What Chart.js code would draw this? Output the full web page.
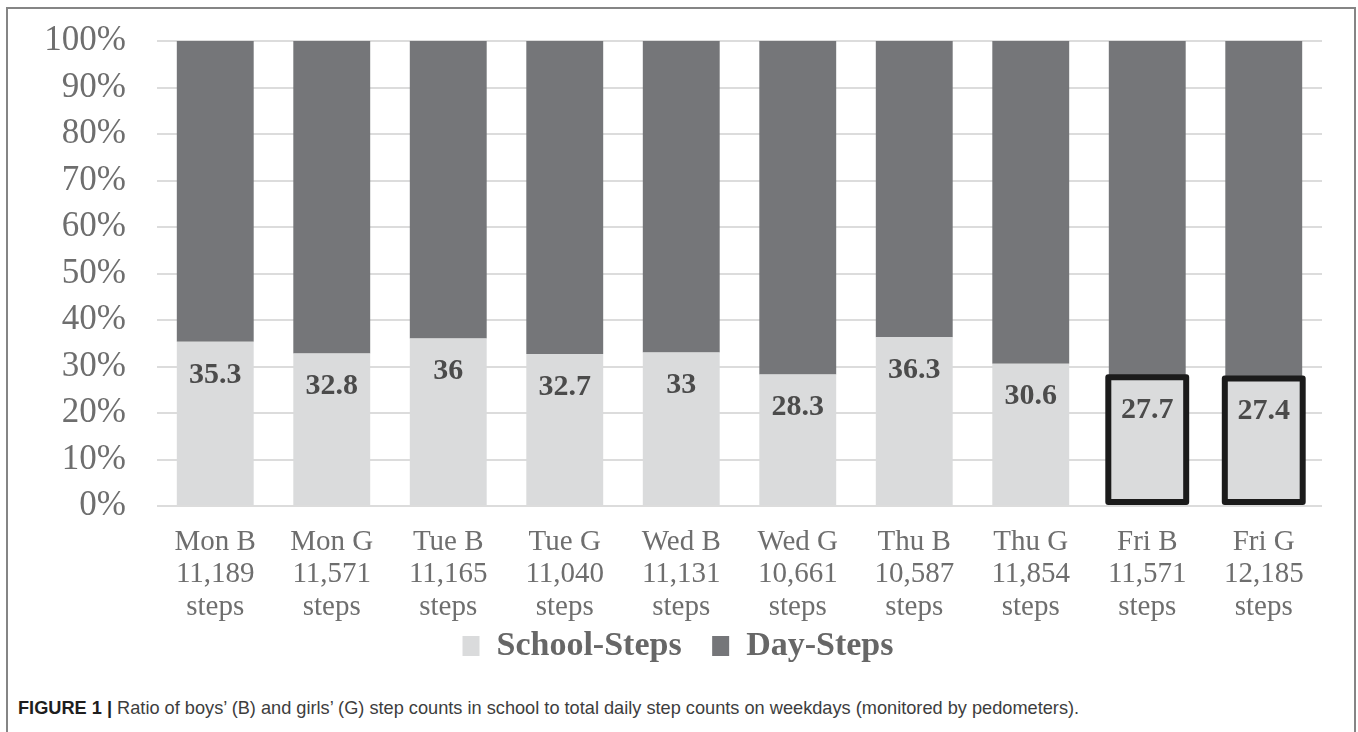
<!DOCTYPE html>
<html>
<head>
<meta charset="utf-8">
<script src="https://cdn.jsdelivr.net/npm/chart.js@4.4.1/dist/chart.umd.min.js"></script>
<style>
  html, body { margin: 0; padding: 0; background: #fff; }
  body { width: 1358px; height: 732px; position: relative; overflow: hidden; }
  #frame {
    position: absolute; left: 6px; top: 7px; width: 1350px; height: 760px;
    border: 2px solid #858585; box-sizing: border-box;
  }
  #chart { position: absolute; left: 0; top: 0; }
  #caption {
    position: absolute; left: 18px; top: 698px;
    font-family: "Liberation Sans", Arial, sans-serif; font-size: 18.2px; line-height: 20px;
    color: #3d3d3d; white-space: nowrap;
  }
  #caption b { color: #1e1e1e; }
</style>
</head>
<body>
<div id="frame"></div>
<canvas id="chart" width="1358" height="680"></canvas>
<div id="caption"><b>FIGURE 1 |</b> Ratio of boys’ (B) and girls’ (G) step counts in school to total daily step counts on weekdays (monitored by pedometers).</div>
<script>
// Weekday / sex groups and their mean total daily steps
const groups = ['Mon B', 'Mon G', 'Tue B', 'Tue G', 'Wed B', 'Wed G', 'Thu B', 'Thu G', 'Fri B', 'Fri G'];
const dailySteps = ['11,189', '11,571', '11,165', '11,040', '11,131', '10,661', '10,587', '11,854', '11,571', '12,185'];

// Share of the daily steps taken in school, and the remainder of the day (%)
const schoolShare = [35.3, 32.8, 36, 32.7, 33, 28.3, 36.3, 30.6, 27.7, 27.4];
const dayShare = [64.7, 67.2, 64, 67.3, 67, 71.7, 63.7, 69.4, 72.3, 72.6];

// Groups whose school bar is outlined
const outlinedGroups = ['Fri B', 'Fri G'];

const yTicks = [0, 10, 20, 30, 40, 50, 60, 70, 80, 90, 100];

const SERIF = '"Liberation Serif", "Times New Roman", serif';
const TEXT_GREY = '#6e6e6e';

// Value labels inside the top of each school bar
const schoolValueLabels = {
  id: 'schoolValueLabels',
  afterDatasetsDraw(chart) {
    const ctx = chart.ctx;
    const meta = chart.getDatasetMeta(0);
    ctx.save();
    ctx.font = 'bold 30px ' + SERIF;
    ctx.fillStyle = '#4b4b4b';
    ctx.textAlign = 'center';
    ctx.textBaseline = 'middle';
    meta.data.forEach((bar, i) => {
      ctx.fillText(String(schoolShare[i]), bar.x, bar.y + 33);
    });
    ctx.restore();
  }
};

// Heavy outline around the school bars of the highlighted groups
const outlineBars = {
  id: 'outlineBars',
  afterDatasetsDraw(chart) {
    const ctx = chart.ctx;
    const meta = chart.getDatasetMeta(0);
    ctx.save();
    ctx.strokeStyle = '#1b1b1b';
    ctx.lineWidth = 6;
    ctx.lineJoin = 'round';
    meta.data.forEach((bar, i) => {
      if (!outlinedGroups.includes(groups[i])) return;
      const half = bar.width / 2 + 0.5;
      ctx.strokeRect(bar.x - half, bar.y, half * 2, bar.base - 3 - bar.y);
    });
    ctx.restore();
  }
};

new Chart(document.getElementById('chart'), {
  type: 'bar',
  data: {
    labels: groups.map((g, i) => [g, dailySteps[i], 'steps']),
    datasets: [
      {
        label: 'School-Steps',
        data: schoolShare,
        backgroundColor: '#dadbdc',
        borderWidth: 0,
        categoryPercentage: 1,
        barPercentage: 0.66
      },
      {
        label: 'Day-Steps',
        data: dayShare,
        backgroundColor: '#757679',
        borderWidth: 0,
        categoryPercentage: 1,
        barPercentage: 0.66
      }
    ]
  },
  options: {
    responsive: false,
    animation: false,
    devicePixelRatio: 1,
    layout: { padding: { left: 34, right: 36, top: 41, bottom: 7 } },
    plugins: {
      tooltip: { enabled: false },
      legend: {
        position: 'bottom',
        labels: {
          font: { family: SERIF, size: 34, weight: 'bold' },
          color: '#676767',
          boxWidth: 17,
          boxHeight: 20,
          padding: 5,
          // widen the gap between the two legend entries
          generateLabels(chart) {
            const items = Chart.defaults.plugins.legend.labels.generateLabels(chart);
            items.forEach((item, i) => {
              if (i < items.length - 1) item.text += '\u00a0\u00a0\u00a0';
            });
            return items;
          }
        }
      }
    },
    scales: {
      x: {
        stacked: true,
        grid: { display: false, drawTicks: false },
        border: { display: false },
        ticks: {
          font: { family: SERIF, size: 29, lineHeight: 1.12 },
          color: TEXT_GREY,
          padding: 20,
          maxRotation: 0,
          autoSkip: false
        },
        afterFit(scale) { scale.height = 118; }
      },
      y: {
        stacked: true,
        min: 0,
        max: 100,
        afterBuildTicks(scale) { scale.ticks = yTicks.map(v => ({ value: v })); },
        grid: { color: '#dcdcdc', lineWidth: 2, drawTicks: true, tickLength: 28, tickColor: 'rgba(0,0,0,0)' },
        border: { display: false },
        ticks: {
          font: { family: SERIF, size: 35 },
          color: TEXT_GREY,
          padding: 3,
          callback: v => v + '%'
        },
        afterFit(scale) { scale.width = 123; }
      }
    }
  },
  plugins: [schoolValueLabels, outlineBars]
});
</script>
</body>
</html>
